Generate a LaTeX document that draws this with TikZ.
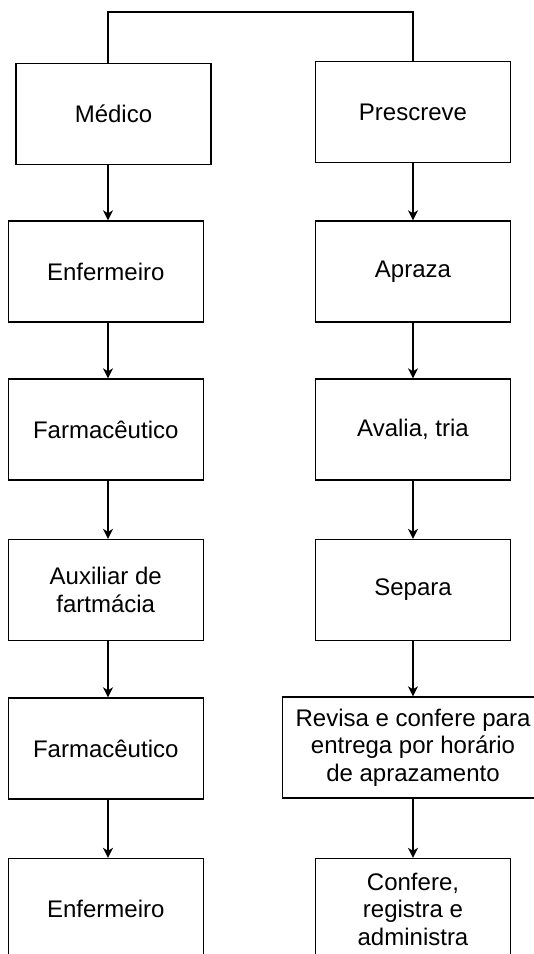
\documentclass[tikz,border=0pt]{standalone}
\usepackage{fontspec}
\setmainfont{Liberation Sans}
\usetikzlibrary{arrows.meta, positioning, calc}

\begin{document}
\begin{tikzpicture}[x=1pt, y=-1pt,
        box/.style={rectangle, draw=black, line width=1.4pt, minimum width=195pt,
                minimum height=101pt, align=center, inner sep=2pt,
                font=\fontsize{24}{27.5}\selectfont},
        link/.style={line width=1.4pt},
        arrow/.style={line width=1.4pt, -{Stealth[length=10pt, width=10pt, inset=3pt]}}]
        \path[use as bounding box, clip] (0,0) rectangle (534,954);
        \coordinate (axisL) at (108,0);
        \coordinate (top) at (0,12);

        % Left column
        \node[box] (left1) at (113.5,113.75) {Médico};
        \foreach \i/\y/\txt in {2/271.5/Enfermeiro, 3/429.5/Farmacêutico, 4/590/Auxiliar de\\fartmácia, 5/748.5/Farmacêutico, 6/909/Enfermeiro} {
        \node[box] (left\i) at (105.75,\y) {\txt};
        }

        % Right column
        \foreach \i/\y/\txt in {1/112/Prescreve, 2/271.5/Apraza, {3/429.5/Avalia, tria}, 4/590/Separa, {6/909/Confere,\\registra e\\administra}} {
        \node[box] (right\i) at (413,\y) {\txt};
        }
        \node[box, minimum width=261pt] (right5) at (413,747.5) {Revisa e confere para\\entrega por horário\\de aprazamento};

        % Connectors
        \draw[link] (left1.north -| axisL) -- (top -| axisL) -| (right1.north);
        \foreach \a/\b in {1/2, 2/3, 3/4, 4/5, 5/6} {
        \draw[arrow] (left\a.south -| axisL) -- (left\b.north -| axisL);
        \draw[arrow] (right\a) -- (right\b);
        }
\end{tikzpicture}
\end{document}
